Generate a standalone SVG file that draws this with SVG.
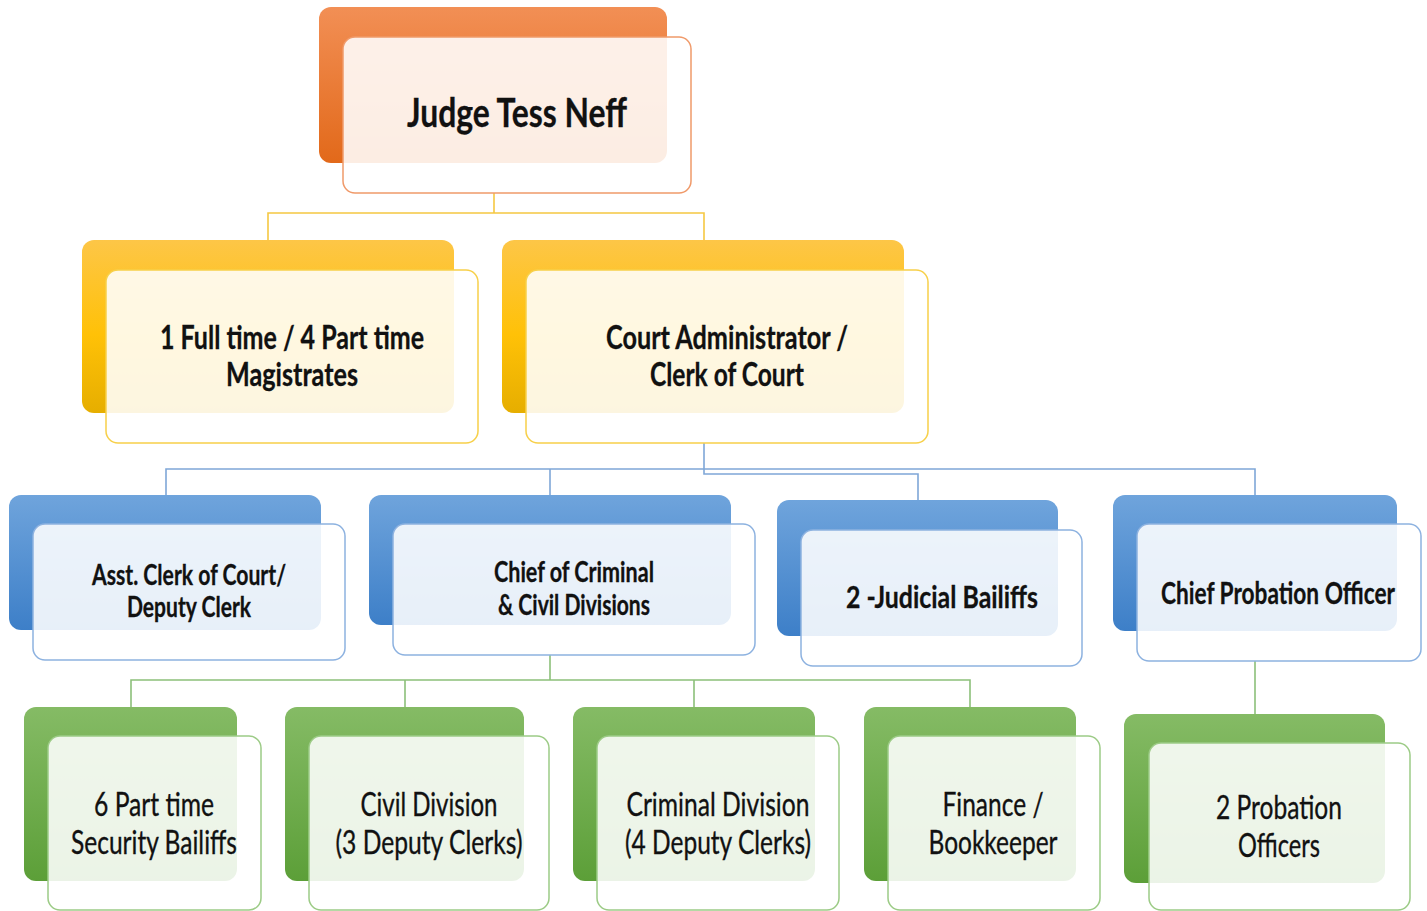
<svg xmlns="http://www.w3.org/2000/svg" width="1427" height="911" viewBox="0 0 1427 911">
<defs>
<linearGradient id="gO" x1="0" y1="0" x2="0" y2="1"><stop offset="0" stop-color="#F28F55"/><stop offset="1" stop-color="#E2691A"/></linearGradient>
<linearGradient id="gY" x1="0" y1="0" x2="0" y2="1"><stop offset="0" stop-color="#FDC647"/><stop offset="0.55" stop-color="#FFC107"/><stop offset="1" stop-color="#E6AE00"/></linearGradient>
<linearGradient id="gB" x1="0" y1="0" x2="0" y2="1"><stop offset="0" stop-color="#6FA4DC"/><stop offset="1" stop-color="#3D7FC8"/></linearGradient>
<linearGradient id="gG" x1="0" y1="0" x2="0" y2="1"><stop offset="0" stop-color="#85BB65"/><stop offset="1" stop-color="#5C9F38"/></linearGradient>
<style>
.fr{fill:#fff;fill-opacity:0.88;stroke-width:1.5}
.o{stroke:#F09A6A}.y{stroke:#F7D04A}.b{stroke:#8DB2E0}.g{stroke:#9CCB86}
text{font-family:Lato,"Open Sans","Liberation Sans",sans-serif;fill:#111;text-anchor:middle;stroke:#111;stroke-width:0.35}
.bd{font-weight:bold;stroke-width:0.3}
.cn{fill:none;stroke-width:1.6}
</style>
</defs>
<g id="connectors">
<path class="cn" stroke="#F5C842" d="M494,193V213M268,240V213H704V240"/>
<path class="cn" stroke="#7FA7D8" d="M704,443V469M166,495V469H1255V495M550,469V495M704,469V474H918V500"/>
<path class="cn" stroke="#8CC07A" d="M550,655V680M131,707V680H970V707M405,680V707M694,680V707M1255,661V714"/>
</g>
<g id="judge">
<rect x="319" y="7" width="348" height="156" rx="12" fill="url(#gO)"/>
<rect class="fr o" x="343" y="37" width="348" height="156" rx="12"/>
<text class="bd" x="517" y="127" font-size="40" textLength="220" lengthAdjust="spacingAndGlyphs">Judge Tess Neff</text>
</g>
<g id="magistrates">
<rect x="82" y="240" width="372" height="173" rx="12" fill="url(#gY)"/>
<rect class="fr y" x="106" y="270" width="372" height="173" rx="12"/>
<text class="bd" x="292" y="349" font-size="33" textLength="264" lengthAdjust="spacingAndGlyphs">1 Full time / 4 Part time</text>
<text class="bd" x="292" y="386" font-size="33" textLength="132" lengthAdjust="spacingAndGlyphs">Magistrates</text>
</g>
<g id="court-admin">
<rect x="502" y="240" width="402" height="173" rx="12" fill="url(#gY)"/>
<rect class="fr y" x="526" y="270" width="402" height="173" rx="12"/>
<text class="bd" x="727" y="349" font-size="33" textLength="242" lengthAdjust="spacingAndGlyphs">Court Administrator /</text>
<text class="bd" x="727" y="386" font-size="33" textLength="154" lengthAdjust="spacingAndGlyphs">Clerk of Court</text>
</g>
<g id="asst-clerk">
<rect x="9" y="495" width="312" height="135" rx="12" fill="url(#gB)"/>
<rect class="fr b" x="33" y="524" width="312" height="136" rx="12"/>
<text class="bd" x="189" y="585" font-size="28" textLength="194" lengthAdjust="spacingAndGlyphs">Asst. Clerk of Court/</text>
<text class="bd" x="189" y="617" font-size="28" textLength="124" lengthAdjust="spacingAndGlyphs">Deputy Clerk</text>
</g>
<g id="chief-criminal">
<rect x="369" y="495" width="362" height="130" rx="12" fill="url(#gB)"/>
<rect class="fr b" x="393" y="524" width="362" height="131" rx="12"/>
<text class="bd" x="574" y="582" font-size="28" textLength="160" lengthAdjust="spacingAndGlyphs">Chief of Criminal</text>
<text class="bd" x="574" y="615" font-size="28" textLength="152" lengthAdjust="spacingAndGlyphs">&amp; Civil Divisions</text>
</g>
<g id="judicial-bailiffs">
<rect x="777" y="500" width="281" height="136" rx="12" fill="url(#gB)"/>
<rect class="fr b" x="801" y="530" width="281" height="136" rx="12"/>
<text class="bd" x="942" y="608" font-size="31" textLength="192" lengthAdjust="spacingAndGlyphs">2 -Judicial Bailiffs</text>
</g>
<g id="chief-probation">
<rect x="1113" y="495" width="284" height="136" rx="12" fill="url(#gB)"/>
<rect class="fr b" x="1137" y="524" width="284" height="137" rx="12"/>
<text class="bd" x="1278" y="604" font-size="30" textLength="234" lengthAdjust="spacingAndGlyphs">Chief Probation Officer</text>
</g>
<g id="security-bailiffs">
<rect x="24" y="707" width="213" height="174" rx="12" fill="url(#gG)"/>
<rect class="fr g" x="48" y="736" width="213" height="174" rx="12"/>
<text x="154" y="816" font-size="33" textLength="120" lengthAdjust="spacingAndGlyphs">6 Part time</text>
<text x="154" y="854" font-size="33" textLength="166" lengthAdjust="spacingAndGlyphs">Security Bailiffs</text>
</g>
<g id="civil-division">
<rect x="285" y="707" width="239" height="174" rx="12" fill="url(#gG)"/>
<rect class="fr g" x="309" y="736" width="240" height="174" rx="12"/>
<text x="429" y="816" font-size="33" textLength="137" lengthAdjust="spacingAndGlyphs">Civil Division</text>
<text x="429" y="854" font-size="33" textLength="187" lengthAdjust="spacingAndGlyphs">(3 Deputy Clerks)</text>
</g>
<g id="criminal-division">
<rect x="573" y="707" width="242" height="174" rx="12" fill="url(#gG)"/>
<rect class="fr g" x="597" y="736" width="242" height="174" rx="12"/>
<text x="718" y="816" font-size="33" textLength="183" lengthAdjust="spacingAndGlyphs">Criminal Division</text>
<text x="718" y="854" font-size="33" textLength="186" lengthAdjust="spacingAndGlyphs">(4 Deputy Clerks)</text>
</g>
<g id="finance">
<rect x="864" y="707" width="212" height="174" rx="12" fill="url(#gG)"/>
<rect class="fr g" x="888" y="736" width="212" height="174" rx="12"/>
<text x="993" y="816" font-size="33" textLength="101" lengthAdjust="spacingAndGlyphs">Finance /</text>
<text x="993" y="854" font-size="33" textLength="129" lengthAdjust="spacingAndGlyphs">Bookkeeper</text>
</g>
<g id="probation-officers">
<rect x="1124" y="714" width="261" height="169" rx="12" fill="url(#gG)"/>
<rect class="fr g" x="1149" y="743" width="261" height="167" rx="12"/>
<text x="1279" y="819" font-size="33" textLength="126" lengthAdjust="spacingAndGlyphs">2 Probation</text>
<text x="1279" y="857" font-size="33" textLength="82" lengthAdjust="spacingAndGlyphs">Officers</text>
</g>
</svg>
